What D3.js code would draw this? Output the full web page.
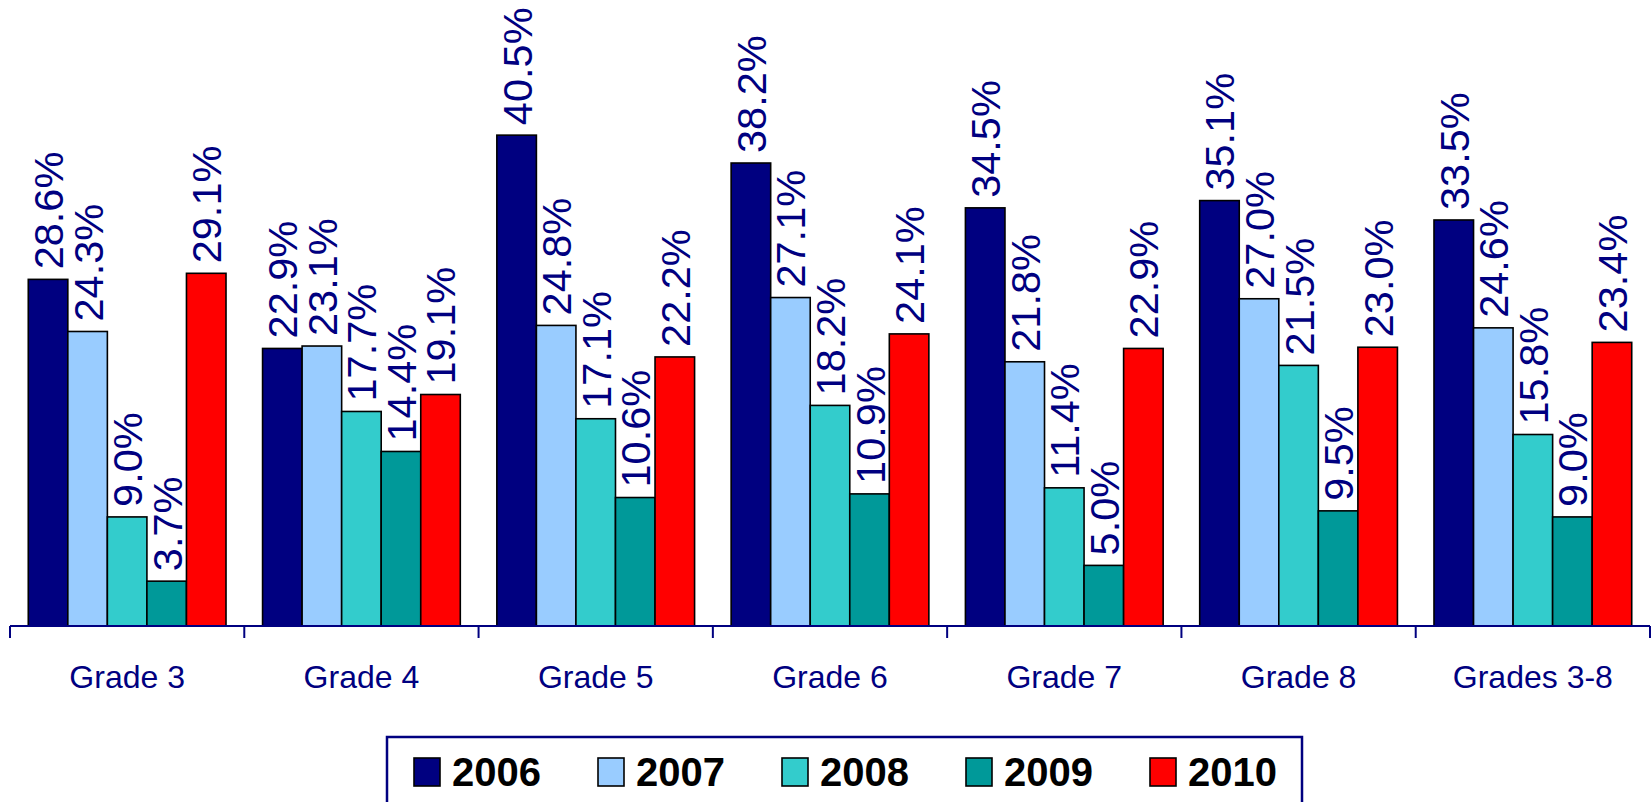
<!DOCTYPE html>
<html>
<head>
<meta charset="utf-8">
<script src="https://cdn.jsdelivr.net/npm/d3@7"></script>
<style>
  html, body { margin: 0; padding: 0; background: #fff; }
  svg { display: block; }
</style>
</head>
<body>
<svg id="chart" width="1652" height="802"></svg>
<script>
const categories = ["Grade 3", "Grade 4", "Grade 5", "Grade 6", "Grade 7", "Grade 8", "Grades 3-8"];
const years = ["2006", "2007", "2008", "2009", "2010"];
const values2006 = [28.6, 22.9, 40.5, 38.2, 34.5, 35.1, 33.5];
const values2007 = [24.3, 23.1, 24.8, 27.1, 21.8, 27.0, 24.6];
const values2008 = [9.0, 17.7, 17.1, 18.2, 11.4, 21.5, 15.8];
const values2009 = [3.7, 14.4, 10.6, 10.9, 5.0, 9.5, 9.0];
const values2010 = [29.1, 19.1, 22.2, 24.1, 22.9, 23.0, 23.4];
const colors = ["#000080", "#99CCFF", "#33CCCC", "#009999", "#FF0000"];

const seriesValues = [values2006, values2007, values2008, values2009, values2010];

const svg = d3.select("#chart");
const font = "'Liberation Sans', Arial, sans-serif";
const navy = "#000080";

const axisY = 626;
const pxPerUnit = 12.12;
const y = d3.scaleLinear().domain([0, 50]).range([axisY, axisY - 50 * pxPerUnit]);

const x0 = d3.scaleBand().domain(categories).range([10, 1650]).padding(0);
const bw = x0.bandwidth();
const pad = bw * 0.078;
const x1 = d3.scaleBand().domain(years).range([pad, bw - pad]).padding(0);

// bars
const groups = svg.append("g").selectAll("g")
  .data(categories)
  .join("g")
  .attr("transform", d => `translate(${x0(d)},0)`);

groups.each(function(cat, ci) {
  const g = d3.select(this);
  const rows = years.map((yr, si) => ({ yr, si, v: seriesValues[si][ci] }));
  g.selectAll("rect")
    .data(rows)
    .join("rect")
    .attr("x", d => x1(d.yr))
    .attr("y", d => y(d.v))
    .attr("width", x1.bandwidth())
    .attr("height", d => y(0) - y(d.v))
    .attr("fill", d => colors[d.si])
    .attr("stroke", "#000")
    .attr("stroke-width", 1.6);
  g.selectAll("text")
    .data(rows)
    .join("text")
    .attr("transform", d => `translate(${x1(d.yr) + x1.bandwidth() / 2},${y(d.v) - 10}) rotate(-90)`)
    .attr("dy", "0.36em")
    .attr("text-anchor", "start")
    .attr("font-family", font)
    .attr("font-size", 41.5)
    .attr("fill", navy)
    .text(d => d.v.toFixed(1) + "%");
});

// axis
const axisG = svg.append("g");
axisG.append("line")
  .attr("x1", x0.range()[0]).attr("x2", x0.range()[1])
  .attr("y1", axisY).attr("y2", axisY)
  .attr("stroke", navy).attr("stroke-width", 2);
const tickPositions = categories.map(c => x0(c)).concat([x0.range()[1]]);
axisG.selectAll("line.tick")
  .data(tickPositions)
  .join("line")
  .attr("class", "tick")
  .attr("x1", d => d).attr("x2", d => d)
  .attr("y1", axisY).attr("y2", axisY + 12)
  .attr("stroke", navy).attr("stroke-width", 2);
axisG.selectAll("text")
  .data(categories)
  .join("text")
  .attr("x", d => x0(d) + bw / 2)
  .attr("y", 688)
  .attr("text-anchor", "middle")
  .attr("font-family", font)
  .attr("font-size", 32)
  .attr("fill", navy)
  .text(d => d);

// legend
const legend = svg.append("g");
legend.append("rect")
  .attr("x", 387).attr("y", 737)
  .attr("width", 1302 - 387).attr("height", 80)
  .attr("fill", "#fff")
  .attr("stroke", navy).attr("stroke-width", 2.5);
const legendX = d3.scalePoint().domain(years).range([414, 414 + 4 * 184]);
const items = legend.selectAll("g.item")
  .data(years)
  .join("g")
  .attr("class", "item")
  .attr("transform", d => `translate(${legendX(d)},758)`);
items.append("rect")
  .attr("width", 26).attr("height", 28)
  .attr("fill", (d, i) => colors[i])
  .attr("stroke", "#000").attr("stroke-width", 1.6);
items.append("text")
  .attr("x", 38).attr("y", 28)
  .attr("font-family", font)
  .attr("font-weight", "bold")
  .attr("font-size", 40)
  .attr("fill", "#000")
  .text(d => d);
</script>
</body>
</html>
